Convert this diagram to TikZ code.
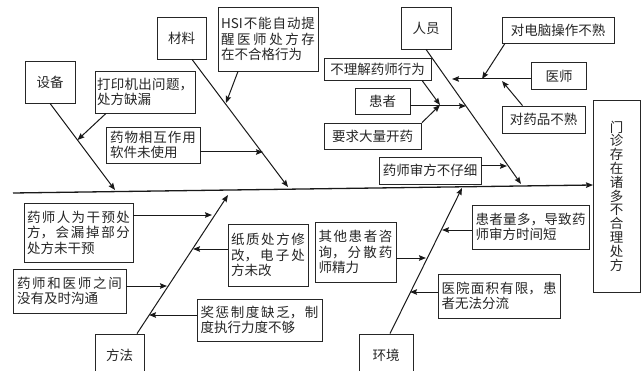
\documentclass[tikz,border=0pt]{standalone}
\usepackage{fontspec}
\newfontfamily\cjk{Noto Sans CJK SC}
\usetikzlibrary{arrows.meta}
\XeTeXlinebreaklocale "zh"
\XeTeXlinebreakskip = 0pt plus 6pt
\begin{document}
\begin{tikzpicture}[x=1pt,y=-1pt,
  box/.style={draw=black!85, line width=0.8pt, fill=white, inner sep=0pt,
    font=\cjk\fontsize{13.5}{15.5}\selectfont, text=black!85},
  mbox/.style={box, align=justify, text width=#1},
  tip/.style={-{Stealth[length=7pt,width=5.5pt,inset=1pt]}},
  spine/.style={tip, line width=1.3pt, black!90},
  bone/.style={tip, line width=1pt, black!90},
  sub/.style={tip, line width=1pt, black!90}]
\useasboundingbox (0,0) rectangle (644,371);
\clip (0,0) rectangle (644,371);

% effect
\node[box, minimum width=47pt, minimum height=192pt, align=center,
  font=\cjk\fontsize{13.5}{13.8}\selectfont] (effect) at (616.5,196)
  {门\\诊\\存\\在\\诸\\多\\不\\合\\理\\处\\方};

% category boxes
\node[box, minimum width=50pt, minimum height=42pt] (shebei) at (50,82) {设备};
\node[box, minimum width=49pt, minimum height=42pt] (cailiao) at (181.5,38) {材料};
\node[box, minimum width=50pt, minimum height=42pt] (renyuan) at (426,28) {人员};
\node[box, minimum width=49pt, minimum height=42pt] (fangfa) at (119.5,355) {方法};
\node[box, minimum width=54pt, minimum height=42pt] (huanjing) at (386,355) {环境};

% upper cause boxes
\node[mbox=96pt, minimum width=100pt, minimum height=42pt] (dayin) at (145,92)
  {打印机出问题，\linebreak 处方缺漏};
\node[mbox=86pt, minimum width=94pt, minimum height=36pt] (yaowu) at (153,145)
  {药物相互作用\linebreak 软件未使用};
\node[mbox=94pt, minimum width=100pt, minimum height=64pt] (HSI) at (268,39)
  {HSI不能自动提\linebreak 醒医师处方存\linebreak 在不合格行为};
\node[box, minimum width=112pt, minimum height=26pt] (diannao) at (558,30) {对电脑操作不熟};
\node[box, minimum width=55pt, minimum height=27pt] (yishi) at (559,76) {医师};
\node[box, minimum width=83pt, minimum height=27pt] (yaopin) at (543.5,119.5) {对药品不熟};
\node[box, minimum width=107pt, minimum height=22pt] (buli) at (377.5,69) {不理解药师行为};
\node[box, minimum width=55pt, minimum height=26pt] (huanzhe) at (382.5,101) {患者};
\node[box, minimum width=97pt, minimum height=26pt] (yaoqiu) at (372.5,136) {要求大量开药};
\node[box, minimum width=102pt, minimum height=27pt] (shenfang) at (430,170.5) {药师审方不仔细};

% lower cause boxes
\node[mbox=103pt, minimum width=109pt, minimum height=59pt] (ganyu) at (78.5,232.5)
  {药师人为干预处\linebreak 方，会漏掉部分\linebreak 处方未干预};
\node[mbox=105pt, minimum width=113pt, minimum height=44pt] (goutong) at (69.5,291)
  {药师和医师之间\linebreak 没有及时沟通};
\node[mbox=74pt, minimum width=80pt, minimum height=62pt] (zhizhi) at (268,255)
  {纸质处方修\linebreak 改，电子处\linebreak 方未改};
\node[mbox=118pt, minimum width=125pt, minimum height=42pt] (jiangcheng) at (259.5,320)
  {奖惩制度缺乏，制\linebreak 度执行力度不够};
\node[mbox=74pt, minimum width=81pt, minimum height=60pt] (qita) at (355.5,252)
  {其他患者咨\linebreak 询，分散药\linebreak 师精力};
\node[mbox=110pt, minimum width=117pt, minimum height=44pt] (liangduo) at (530.5,227)
  {患者量多，导致药\linebreak 师审方时间短};
\node[mbox=115pt, minimum width=122pt, minimum height=44pt] (mianji) at (499,296)
  {医院面积有限，患\linebreak 者无法分流};

% spine
\coordinate (sL) at (13,193);
\coordinate (sR) at (593,185);
\draw[spine] (sL) -- (sR);

% bones
\coordinate (tSB) at (115,190);
\coordinate (tCL) at (288,187);
\coordinate (tRY) at (521,184);
\coordinate (tFF) at (228,195);
\coordinate (tHJ) at (462,188);
\draw[bone] (shebei.south) -- (tSB);
\draw[bone] ([xshift=10.5pt]cailiao.south) -- (tCL);
\draw[bone] (renyuan.south) -- (tRY);
\draw[bone] ([xshift=17.5pt]fangfa.north) -- (tFF);
\draw[bone] ([xshift=4pt]huanjing.north) -- (tHJ);

% upper sub arrows
\coordinate (aDY) at (77.5,140);
\coordinate (aYW) at (263,152);
\coordinate (aHSI) at (226,103);
\coordinate (aDN) at (482,79);
\coordinate (aYS) at (452,79);
\coordinate (aYP) at (502,81);
\coordinate (jHZ) at (440,105);
\coordinate (aHZ) at (466,106);
\coordinate (aSF) at (507,166);
\draw[sub] ([xshift=-39pt]dayin.south) -- (aDY);
\draw[sub] ([yshift=-7pt]yaowu.east) -- (aYW);
\draw[sub] ([xshift=-30pt]HSI.south) -- (aHSI);
\draw[sub] ([xshift=-53pt]diannao.south) -- (aDN);
\draw[sub] ([yshift=-3pt]yishi.west) -- (aYS);
\draw[sub] ([xshift=-21pt]yaopin.north) -- (aYP);
\draw[sub] ([xshift=44.5pt]buli.south) -- (jHZ);
\draw[sub] ([xshift=49.5pt]yaoqiu.north) -- (jHZ);
\draw[sub] ([yshift=-5pt]huanzhe.east) -- (aHZ);
\draw[sub] ([yshift=4.5pt]shenfang.east) -- (aSF);

% lower sub arrows
\coordinate (aGY) at (212,215);
\coordinate (aGT) at (167,286);
\coordinate (aZZ) at (193,249);
\coordinate (aJC) at (149,315);
\coordinate (aQT) at (426,258);
\coordinate (aLD) at (442,230);
\coordinate (aMJ) at (410,292);
\draw[sub] ([yshift=17.5pt]ganyu.east) -- (aGY);
\draw[sub] ([yshift=5pt]goutong.east) -- (aGT);
\draw[sub] ([yshift=6pt]zhizhi.west) -- (aZZ);
\draw[sub] ([yshift=5pt]jiangcheng.west) -- (aJC);
\draw[sub] ([yshift=-6pt]qita.east) -- (aQT);
\draw[sub] ([yshift=-3pt]liangduo.west) -- (aLD);
\draw[sub] ([yshift=4pt]mianji.west) -- (aMJ);
\end{tikzpicture}
\end{document}
